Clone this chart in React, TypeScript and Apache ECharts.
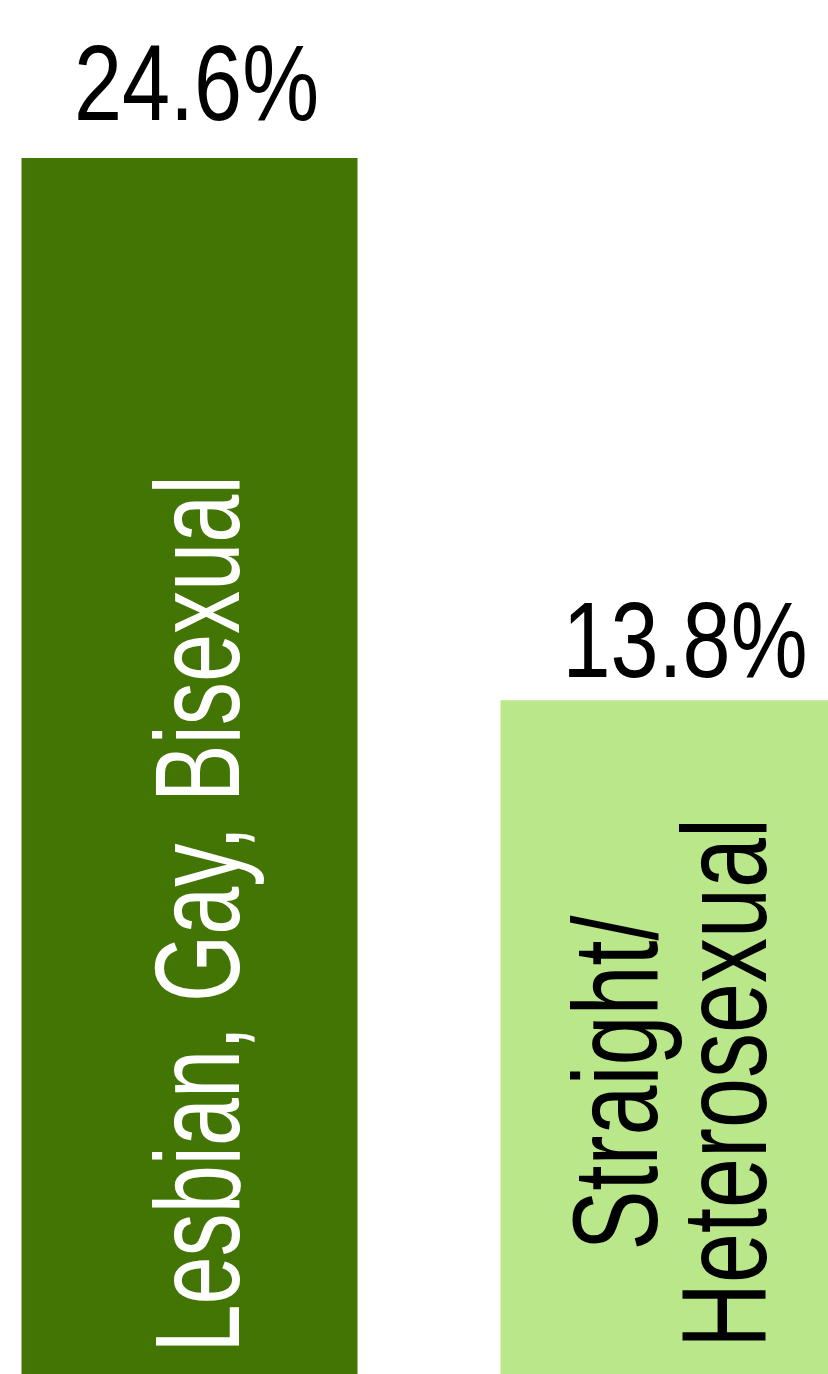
import React, { useEffect, useRef } from "react";
import * as echarts from "echarts";

const categories = ["Lesbian, Gay, Bisexual", "Straight/\nHeterosexual"];
const values = [24.6, 13.8];
const valueLabels = ["24.6%", "13.8%"];
const barColors = ["#437505", "#b9e78a"];
const nameColors = ["#ffffff", "#000000"];

// label placement (pixels relative to each bar) and horizontal compression
const placement = [
  { valueDx: 7, valueDy: 76, nameDx: 7.5, nameDy: 479, nameScale: 0.72 },
  { valueDx: 16.5, valueDy: 61, nameDx: 1, nameDy: 310, nameScale: 0.75 },
];

const FONT = "'Liberation Sans', Arial, sans-serif";

export default function App() {
  const ref = useRef<HTMLDivElement>(null);
  useEffect(() => {
    if (!ref.current) return;
    const chart = echarts.init(ref.current, null, { renderer: "svg" });
    chart.setOption({
      animation: false,
      backgroundColor: "#ffffff",
      grid: { left: 0, right: 0, top: 0, bottom: 0, containLabel: false },
      xAxis: { type: "category", data: categories, show: false },
      yAxis: { type: "value", min: 0, max: 27.75, show: false },
      series: [
        {
          type: "bar",
          barWidth: 336,
          data: values.map((v, i) => ({
            value: v,
            itemStyle: { color: barColors[i] },
          })),
        },
        {
          type: "custom",
          clip: false,
          z: 10,
          data: values.map((v, i) => [i, v]),
          encode: { x: 0, y: 1 },
          renderItem: (params: any, api: any) => {
            const i = params.dataIndex;
            const top = api.coord([api.value(0), api.value(1)]);
            const base = api.coord([api.value(0), 0]);
            const cx = top[0];
            const p = placement[i];
            return {
              type: "group",
              children: [
                {
                  type: "text",
                  x: cx + p.valueDx,
                  y: top[1] - p.valueDy,
                  scaleX: 0.8,
                  style: {
                    text: valueLabels[i],
                    fill: "#000000",
                    fontSize: 108,
                    fontFamily: FONT,
                    align: "center",
                    verticalAlign: "middle",
                  },
                },
                {
                  type: "text",
                  x: cx + p.nameDx,
                  y: base[1] - p.nameDy,
                  rotation: Math.PI / 2,
                  scaleX: p.nameScale,
                  style: {
                    text: categories[i],
                    fill: nameColors[i],
                    fontSize: 120,
                    lineHeight: 109,
                    fontFamily: FONT,
                    align: "center",
                    verticalAlign: "middle",
                  },
                },
              ],
            };
          },
        },
      ],
    });
    return () => chart.dispose();
  }, []);
  return (
    <div
      style={{
        position: "fixed",
        left: 0,
        top: 0,
        width: 828,
        height: 1374,
        overflow: "hidden",
        background: "#ffffff",
      }}
    >
      <div
        ref={ref}
        style={{ position: "absolute", left: -50, top: 0, width: 958, height: 1393 }}
      />
    </div>
  );
}
